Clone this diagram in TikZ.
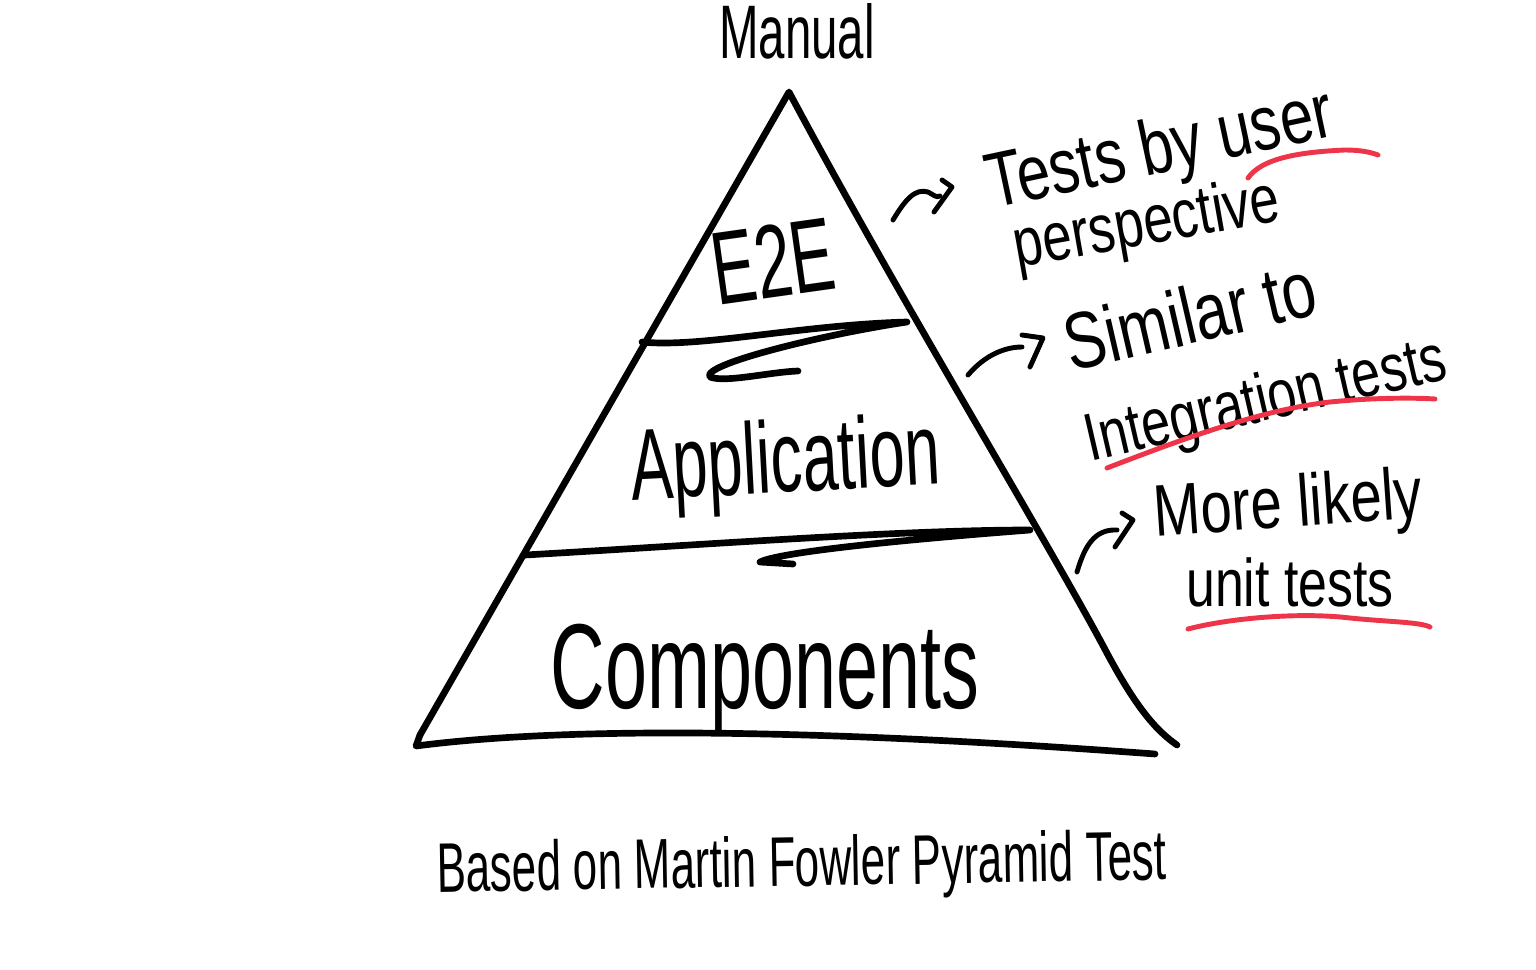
\documentclass[tikz,border=0pt]{standalone}
\usepackage{fontspec}
\setmainfont{Liberation Sans}
\usepackage{graphicx}
\usepackage{tikz}
\definecolor{penred}{RGB}{238,52,72}
\newcommand{\tallhand}[1]{\scalebox{1}[1.6]{#1}}
\newcommand{\tallnote}[1]{\scalebox{1}[1.3]{#1}}

\begin{document}
\begin{tikzpicture}[x=0.02cm, y=-0.02cm, line cap=round, line join=round,
    pen/.style={line width=3.8pt},
    thinpen/.style={line width=2.8pt},
    redpen/.style={line width=2.8pt, draw=penred},
    hand/.style={inner sep=0pt, anchor=base}]
    \useasboundingbox (0,0) rectangle (1536,970);

    % pyramid
    \draw[pen] (420,735) -- (789,92) .. controls (900,300) and (1050,545) .. (1108,655)
        .. controls (1135,705) and (1155,730) .. (1177,745);
    \draw[pen] (420,735) -- (416,746) .. controls (600,722) and (900,735) .. (1155,754);
    \draw[pen] (642,342) .. controls (700,348) and (800,325) .. (907,322)
        .. controls (820,335) and (700,365) .. (710,377) .. controls (725,383) and (770,372) .. (798,371);
    \draw[pen] (525,555) .. controls (700,545) and (900,530) .. (1030,530)
        .. controls (900,540) and (780,552) .. (760,562) -- (793,564);

    \node[hand, font=\fontsize{27}{30}\selectfont] (manual) at (797,58) {\tallhand{Manual}};
    \node[hand, font=\fontsize{37}{40}\selectfont, rotate=8] (etoe) at (778,297) {\tallhand{E2E}};
    \node[hand, font=\fontsize{36}{40}\selectfont, rotate=3] (app) at (787,492) {\tallhand{Application}};
    \node[hand, font=\fontsize{43}{48}\selectfont] (comp) at (765,708) {\tallhand{Components}};
    \node[hand, font=\fontsize{25}{28}\selectfont, rotate=1] (based) at (802,886) {\tallhand{Based on Martin Fowler Pyramid Test}};

    % notes
    \node[hand, font=\fontsize{34}{38}\selectfont, rotate=12] (user) at (1165,172) {\tallnote{Tests by user}};
    \node[hand, font=\fontsize{30}{34}\selectfont, rotate=10] (persp) at (1150,244) {\tallnote{perspective}};
    \node[hand, font=\fontsize{35}{38}\selectfont, rotate=13] (similar) at (1196,343) {\tallnote{Similar to}};
    \node[hand, font=\fontsize{29.5}{33}\selectfont, rotate=13] (integ) at (1270,420) {\tallnote{Integration tests}};
    \node[hand, font=\fontsize{32}{36}\selectfont, rotate=4] (likely) at (1290,527) {\tallnote{More likely}};
    \node[hand, font=\fontsize{29.5}{33}\selectfont] (unit) at (1290,606) {\tallnote{unit tests}};

    \coordinate (arrA) at (893,220);
    \coordinate (arrB) at (968,375);
    \coordinate (arrC) at (1077,572);
    \draw[thinpen] (arrA) .. controls (905,200) and (915,188) .. (928,192) .. controls (934,195) and (936,198) .. (940,196);
    \draw[thinpen] (942,180) -- (952,187) -- (934,212);
    \draw[thinpen] (arrB) .. controls (985,355) and (1005,347) .. (1022,347);
    \draw[thinpen] (1022,335) -- (1043,338) -- (1030,367);
    \draw[thinpen] (arrC) .. controls (1085,545) and (1095,529) .. (1117,530);
    \draw[thinpen] (1122,513) -- (1133,520) -- (1115,547);

    \draw[redpen] (1248,178) .. controls (1262,158) and (1300,152) .. (1345,150) .. controls (1360,150) and (1370,152) .. (1378,155);
    \draw[redpen] (1107,468) .. controls (1180,440) and (1260,410) .. (1330,402) .. controls (1380,397) and (1420,398) .. (1435,399);
    \draw[redpen] (1188,629) .. controls (1230,618) and (1300,612) .. (1350,618) .. controls (1390,622) and (1420,622) .. (1430,627);
\end{tikzpicture}
\end{document}
